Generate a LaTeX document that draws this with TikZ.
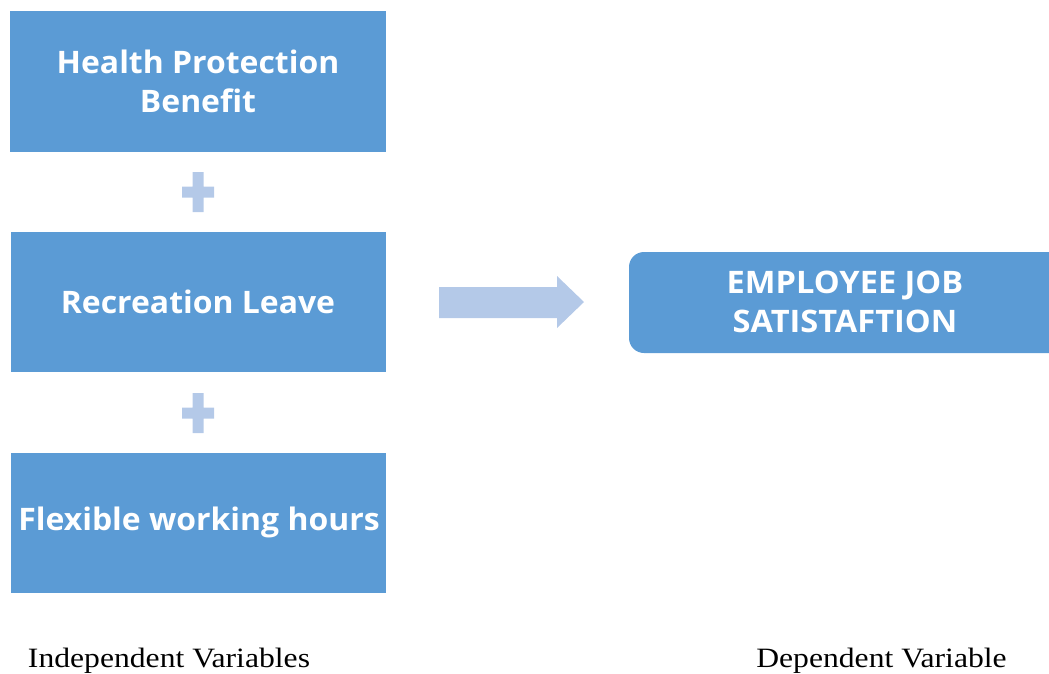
\documentclass[tikz,border=0pt]{standalone}
\usepackage{fontspec}
\usetikzlibrary{calc}
\setmainfont{Liberation Serif}
\newfontfamily\boxfont{Open Sans}
\definecolor{boxblue}{HTML}{5B9BD5}
\definecolor{lightblue}{HTML}{B4C9E8}
\begin{document}
\begin{tikzpicture}[x=1pt,y=-1pt,
  varbox/.style={fill=boxblue,draw=none,text=white,font=\boxfont\bfseries\fontsize{31}{39.5}\selectfont,align=center,inner sep=0pt,xscale=1.03},
  caption/.style={font=\fontsize{28}{30}\selectfont,anchor=base,inner sep=0pt,xscale=1.13}]
\useasboundingbox (0,0) rectangle (1049,673);
\clip (0,0) rectangle (1049,673);
% left boxes
\path[fill=boxblue] (10,11) rectangle (386,152);
\node[varbox] (hp) at (198,81.5) {Health Protection\\Benefit};
\path[fill=boxblue] (11,232) rectangle (386,372);
\node[varbox] (rl) at (198,302) {Recreation Leave};
\path[fill=boxblue] (11,453) rectangle (386,593);
\node[varbox] (fw) at (199,522) {Flexible working hours};
% plus signs
\foreach \cy/\nm in {192/p1,413/p2}{
  \coordinate (\nm) at (198,\cy);
  \fill[lightblue] ($(\nm)+(-16,-5.5)$) -- ++(10.5,0) -- ++(0,-14.5) -- ++(11,0) -- ++(0,14.5) -- ++(10.5,0) -- ++(0,11) -- ++(-10.5,0) -- ++(0,14.5) -- ++(-11,0) -- ++(0,-14.5) -- ++(-10.5,0) -- cycle;
}
% arrow
\fill[lightblue] (439,287) -- (557,287) -- (557,276) -- (584,302) -- (557,328) -- (557,318) -- (439,318) -- cycle;
% right box
\path[fill=boxblue,rounded corners=15pt] (629,252) rectangle (1064,353);
\node[varbox,xscale=1.02] (ejs) at (845,302) {EMPLOYEE JOB\\SATISTAFTION};
% captions
\node[caption] (iv) at (169,667) {Independent Variables};
\node[caption] (dv) at (881.5,667) {Dependent Variable};
\end{tikzpicture}
\end{document}
